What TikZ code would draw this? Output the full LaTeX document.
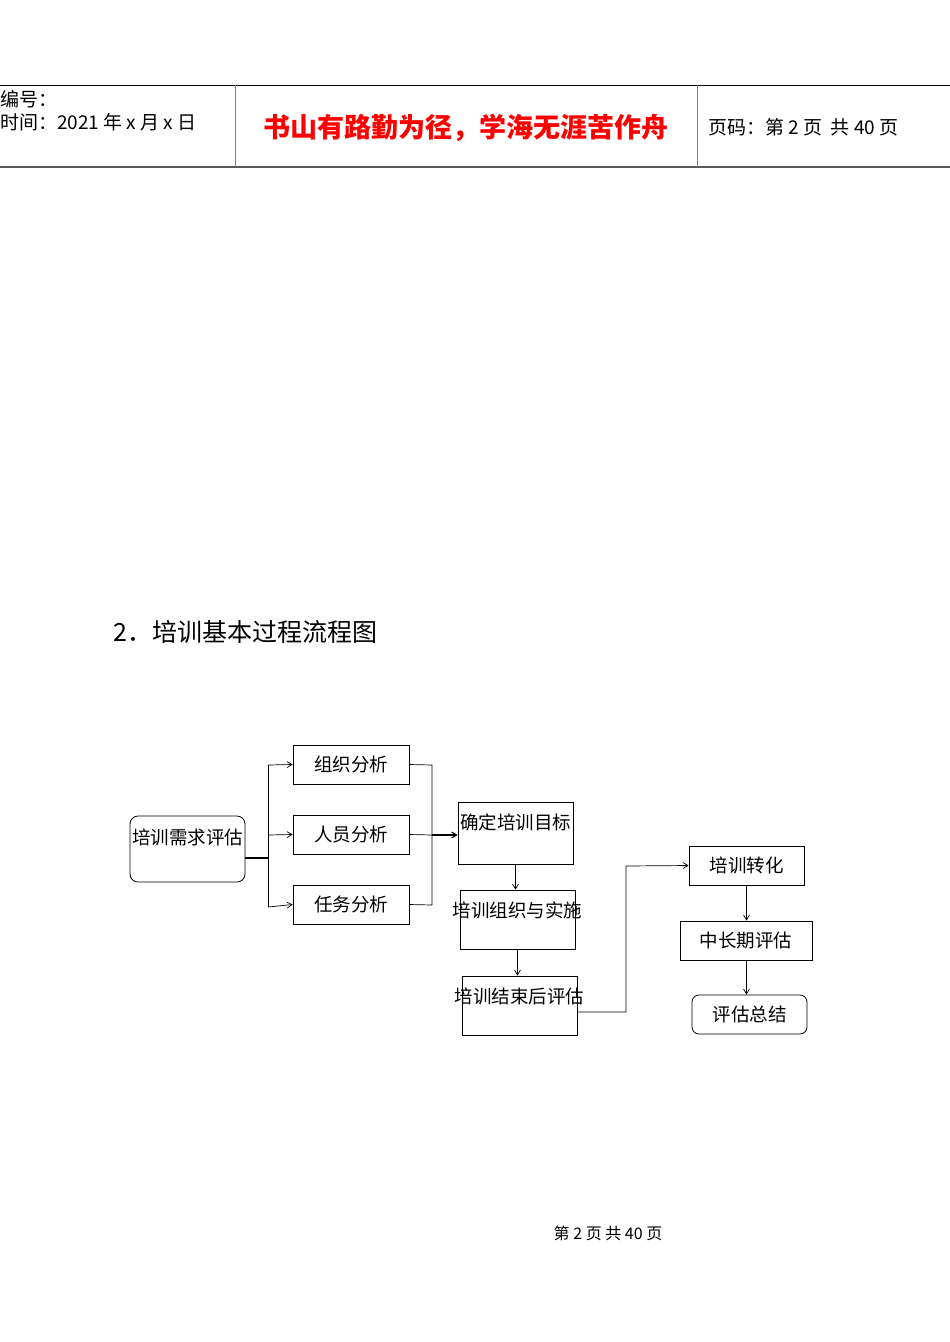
\documentclass[tikz,border=0pt]{standalone}
\usepackage{fontspec}
\setmainfont{Liberation Sans}
\newfontfamily\cjk{Noto Sans CJK SC}
\usetikzlibrary{arrows.meta}
\begin{document}
\begin{tikzpicture}[x=1pt,y=-1pt,
 box/.style={draw,line width=0.8pt,inner sep=0pt,font=\cjk\fontsize{18.5}{19}\selectfont},
 bt/.style={inner sep=0pt,font=\cjk\fontsize{18.5}{19}\selectfont},
 arr/.style={-{Straight Barb[length=5pt,width=6pt]},line width=0.7pt},
 ln/.style={line width=0.7pt}]
\useasboundingbox[fill=white] (0,0) rectangle (950,1342);
% header
\draw[line width=0.8pt] (0,85) -- (950,85);
\draw[line width=1.3pt,gray!70!black] (0,167) -- (950,167);
\draw[line width=0.8pt,gray] (235,85) -- (235,167) (697,85) -- (697,167);
\node[anchor=west,inner sep=0pt,font=\cjk\fontsize{19}{20}\selectfont] (h1) at (0,99) {编号：};
\node[anchor=west,inner sep=0pt,font=\cjk\fontsize{19}{20}\selectfont] (h2) at (0,122) {时间：2021 年 x 月 x 日};
\node[inner sep=0pt,text=red,font=\cjk\bfseries\fontsize{27}{28}\selectfont] (h3) at (466,128) {书山有路勤为径，学海无涯苦作舟};
\node[anchor=west,inner sep=0pt,font=\cjk\fontsize{19}{20}\selectfont] (h4) at (708,127) {页码：第 2 页\ \ 共 40 页};
% title
\node[anchor=west,inner sep=0pt,font=\cjk\fontsize{25}{26}\selectfont] (title) at (113,632) {2．培训基本过程流程图};
% nodes
\node[box,rounded corners=8pt,minimum width=115pt,minimum height=66pt] (need) at (187.5,849) {};
\node[bt] (needt) at (187.5,837) {培训需求评估};
\node[box,minimum width=116pt,minimum height=39pt] (org) at (351,764.5) {组织分析};
\node[box,minimum width=116pt,minimum height=39pt] (per) at (351,834.5) {人员分析};
\node[box,minimum width=116pt,minimum height=39pt] (task) at (351,904.5) {任务分析};
\node[box,minimum width=115pt,minimum height=62pt] (goal) at (515.5,833) {};
\node[bt] at (515.5,822) {确定培训目标};
\node[box,minimum width=115pt,minimum height=59pt] (impl) at (517.5,919.5) {};
\node[bt] at (517.5,910) {培训组织与实施};
\node[box,minimum width=115pt,minimum height=59pt] (post) at (519.5,1005.5) {};
\node[bt] at (519.5,996) {培训结束后评估};
\node[box,minimum width=115pt,minimum height=39pt] (trans) at (746.5,865.5) {培训转化};
\node[box,minimum width=132pt,minimum height=39pt] (mid) at (746,940.5) {中长期评估};
\node[box,rounded corners=7pt,minimum width=115pt,minimum height=39pt] (sum) at (749.5,1014.5) {评估总结};
% connectors
\coordinate (b1) at (268,858);
\draw[line width=1.3pt] (245,858) -- (b1);
\draw[ln] (268,765) -- (268,907);
\draw[arr] (268,765) -- (org.west);
\draw[arr] (268,835) -- (per.west);
\draw[arr] (268,907) -- (task.west);
\draw[ln] (org.east) -- (432,765) -- (432,905) -- (task.east);
\draw[ln] (per.east) -- (432,835);
\draw[arr,line width=1.1pt] (432,835) -- (goal.west |- 0,835);
\draw[arr] (goal.south) -- (impl.north -| goal.south);
\draw[arr] (impl.south) -- (post.north -| impl.south);
\draw[arr] (post.east |- 0,1012) -- (626,1012) -- (626,866) -- (trans.west);
\draw[arr] (trans.south) -- (mid.north -| trans.south);
\draw[arr] (mid.south -| trans.south) -- (sum.north -| trans.south);
% footer
\node[inner sep=0pt,font=\cjk\fontsize{16}{17}\selectfont] (foot) at (608,1233) {第\ 2\ 页\ 共\ 40\ 页};
\end{tikzpicture}
\end{document}
